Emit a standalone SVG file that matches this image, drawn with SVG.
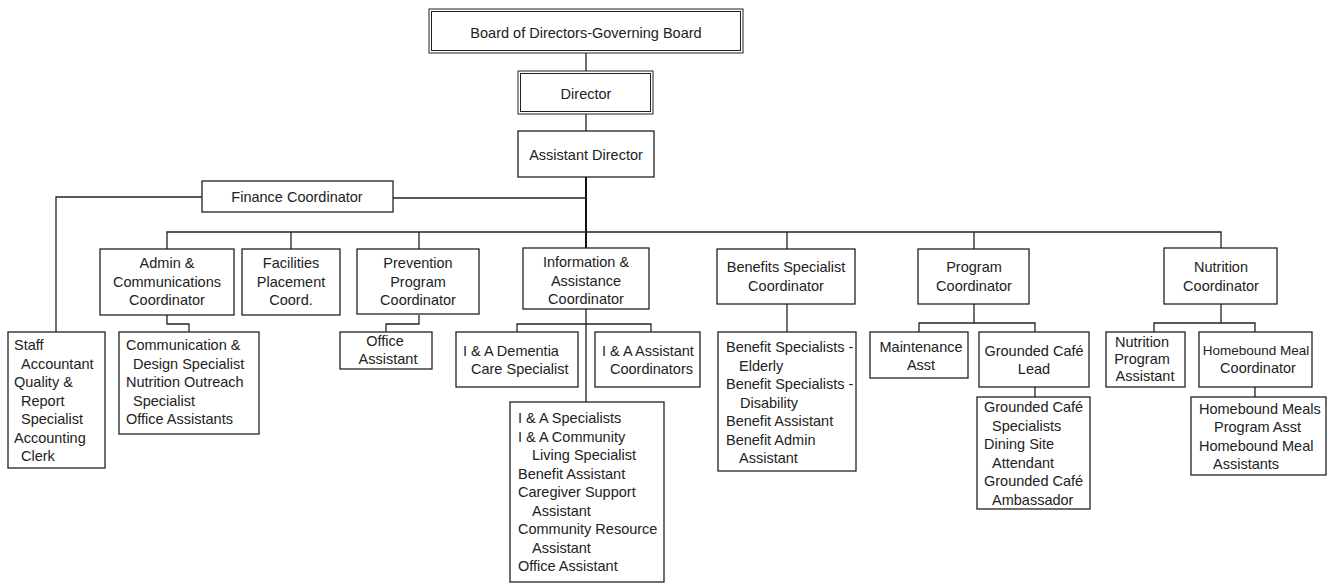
<svg xmlns="http://www.w3.org/2000/svg" width="1331" height="585" viewBox="0 0 1331 585">
<style>
.box{fill:#fff;stroke:#222;stroke-width:1.3}
.dbl{fill:none;stroke:#222;stroke-width:1}
.ln{fill:none;stroke:#222;stroke-width:1.3}
.trunk{fill:none;stroke:#111;stroke-width:2}
text{font-family:"Liberation Sans",Arial,sans-serif;font-size:14.5px;fill:#222}
.c{text-anchor:middle}
</style>
<rect width="1331" height="585" fill="#fff"/>
<g id="connectors">
<path class="ln" d="M586 53V71M586 114V131"/>
<path class="trunk" d="M586 177V248"/>
<path class="ln" d="M393 198H586M202 197H56V332"/>
<path class="ln" d="M167 249V232H1221V248M291 232V249M419 232V249M787 232V249M974 232V249"/>
<path class="ln" d="M167 315V324H189V332M419 315V324H386V332"/>
<path class="ln" d="M586 309V402M517 332V324H651V332"/>
<path class="ln" d="M787 304V332"/>
<path class="ln" d="M974 304V323M919 332V323H1035V332M1035 387V397"/>
<path class="ln" d="M1221 304V323M1154 332V323H1255V332M1255 387V397"/>
</g>
<g id="board">
<rect class="dbl" x="429" y="9" width="314" height="44"/>
<rect class="dbl" x="431.5" y="11.5" width="309" height="39"/>
<text class="c" x="586" y="38">Board of Directors-Governing Board</text>
</g>
<g id="director">
<rect class="dbl" x="518" y="71" width="135" height="43"/>
<rect class="dbl" x="520.5" y="73.5" width="130" height="38"/>
<text class="c" x="586" y="99">Director</text>
</g>
<g id="assistant-director">
<rect class="box" x="518" y="131" width="136" height="46"/>
<text class="c" x="586" y="160">Assistant Director</text>
</g>
<g id="finance">
<rect class="box" x="202" y="181" width="191" height="31"/>
<text class="c" x="297" y="202">Finance Coordinator</text>
</g>
<g id="staff">
<rect class="box" x="8" y="332" width="97" height="136"/>
<text x="14" y="350">Staff</text>
<text x="21" y="368.5">Accountant</text>
<text x="14" y="387">Quality &amp;</text>
<text x="21" y="405.5">Report</text>
<text x="21" y="424">Specialist</text>
<text x="14" y="442.5">Accounting</text>
<text x="21" y="461">Clerk</text>
</g>
<g id="admin">
<rect class="box" x="100" y="249" width="134" height="66"/>
<text class="c" x="167" y="268">Admin &amp;</text>
<text class="c" x="167" y="286.5">Communications</text>
<text class="c" x="167" y="305">Coordinator</text>
</g>
<g id="comm">
<rect class="box" x="119" y="332" width="140" height="102"/>
<text x="126" y="350">Communication &amp;</text>
<text x="133" y="368.5">Design Specialist</text>
<text x="126" y="387">Nutrition Outreach</text>
<text x="133" y="405.5">Specialist</text>
<text x="126" y="424">Office Assistants</text>
</g>
<g id="facilities">
<rect class="box" x="242" y="249" width="98" height="66"/>
<text class="c" x="291" y="268">Facilities</text>
<text class="c" x="291" y="286.5">Placement</text>
<text class="c" x="291" y="305">Coord.</text>
</g>
<g id="prevention">
<rect class="box" x="357" y="249" width="122" height="65"/>
<text class="c" x="418" y="268">Prevention</text>
<text class="c" x="418" y="286.5">Program</text>
<text class="c" x="418" y="305">Coordinator</text>
</g>
<g id="prev-office">
<rect class="box" x="340" y="332" width="92" height="37"/>
<text class="c" x="385" y="346">Office</text>
<text class="c" x="388" y="364">Assistant</text>
</g>
<g id="info">
<rect class="box" x="523" y="248" width="126" height="61"/>
<text class="c" x="586" y="267">Information &amp;</text>
<text class="c" x="586" y="285.5">Assistance</text>
<text class="c" x="586" y="304">Coordinator</text>
</g>
<g id="dementia">
<rect class="box" x="456" y="332" width="122" height="55"/>
<text x="463" y="356">I &amp; A Dementia</text>
<text x="471" y="374">Care Specialist</text>
</g>
<g id="ia-assistant">
<rect class="box" x="595" y="332" width="105" height="55"/>
<text x="602" y="356">I &amp; A Assistant</text>
<text x="610" y="374">Coordinators</text>
</g>
<g id="ia-staff">
<rect class="box" x="510" y="402" width="154" height="180"/>
<text x="518" y="423">I &amp; A Specialists</text>
<text x="518" y="441.5">I &amp; A Community</text>
<text x="532" y="460">Living Specialist</text>
<text x="518" y="478.5">Benefit Assistant</text>
<text x="518" y="497">Caregiver Support</text>
<text x="532" y="515.5">Assistant</text>
<text x="518" y="534">Community Resource</text>
<text x="532" y="552.5">Assistant</text>
<text x="518" y="571">Office Assistant</text>
</g>
<g id="benefits">
<rect class="box" x="717" y="249" width="138" height="55"/>
<text class="c" x="786" y="272">Benefits Specialist</text>
<text class="c" x="786" y="290.5">Coordinator</text>
</g>
<g id="benefits-staff">
<rect class="box" x="718" y="332" width="138" height="139"/>
<text x="726" y="352">Benefit Specialists -</text>
<text x="739" y="370.5">Elderly</text>
<text x="726" y="389">Benefit Specialists -</text>
<text x="740" y="407.5">Disability</text>
<text x="726" y="426">Benefit Assistant</text>
<text x="726" y="444.5">Benefit Admin</text>
<text x="739" y="463">Assistant</text>
</g>
<g id="program">
<rect class="box" x="918" y="249" width="111" height="55"/>
<text class="c" x="974" y="272">Program</text>
<text class="c" x="974" y="290.5">Coordinator</text>
</g>
<g id="maintenance">
<rect class="box" x="870" y="332" width="98" height="46"/>
<text class="c" x="921" y="352">Maintenance</text>
<text class="c" x="921" y="370">Asst</text>
</g>
<g id="cafe-lead">
<rect class="box" x="979" y="332" width="110" height="55"/>
<text class="c" x="1034" y="356">Grounded Café</text>
<text class="c" x="1034" y="374">Lead</text>
</g>
<g id="cafe-staff">
<rect class="box" x="977" y="397" width="113" height="112"/>
<text x="984" y="412">Grounded Café</text>
<text x="992" y="430.5">Specialists</text>
<text x="984" y="449">Dining Site</text>
<text x="992" y="467.5">Attendant</text>
<text x="984" y="486">Grounded Café</text>
<text x="992" y="504.5">Ambassador</text>
</g>
<g id="nutrition">
<rect class="box" x="1164" y="248" width="113" height="56"/>
<text class="c" x="1221" y="272">Nutrition</text>
<text class="c" x="1221" y="290.5">Coordinator</text>
</g>
<g id="nutrition-asst">
<rect class="box" x="1106" y="332" width="79" height="55"/>
<text class="c" x="1142" y="347">Nutrition</text>
<text class="c" x="1142" y="364">Program</text>
<text class="c" x="1145" y="381">Assistant</text>
</g>
<g id="homebound-coord">
<rect class="box" x="1199" y="332" width="113" height="55"/>
<text class="c" x="1256" y="355" style="font-size:13.5px">Homebound Meal</text>
<text class="c" x="1258" y="373">Coordinator</text>
</g>
<g id="homebound-staff">
<rect class="box" x="1191" y="397" width="135" height="78"/>
<text x="1199" y="414">Homebound Meals</text>
<text x="1214" y="432">Program Asst</text>
<text x="1199" y="451">Homebound Meal</text>
<text x="1213" y="469">Assistants</text>
</g>
</svg>
